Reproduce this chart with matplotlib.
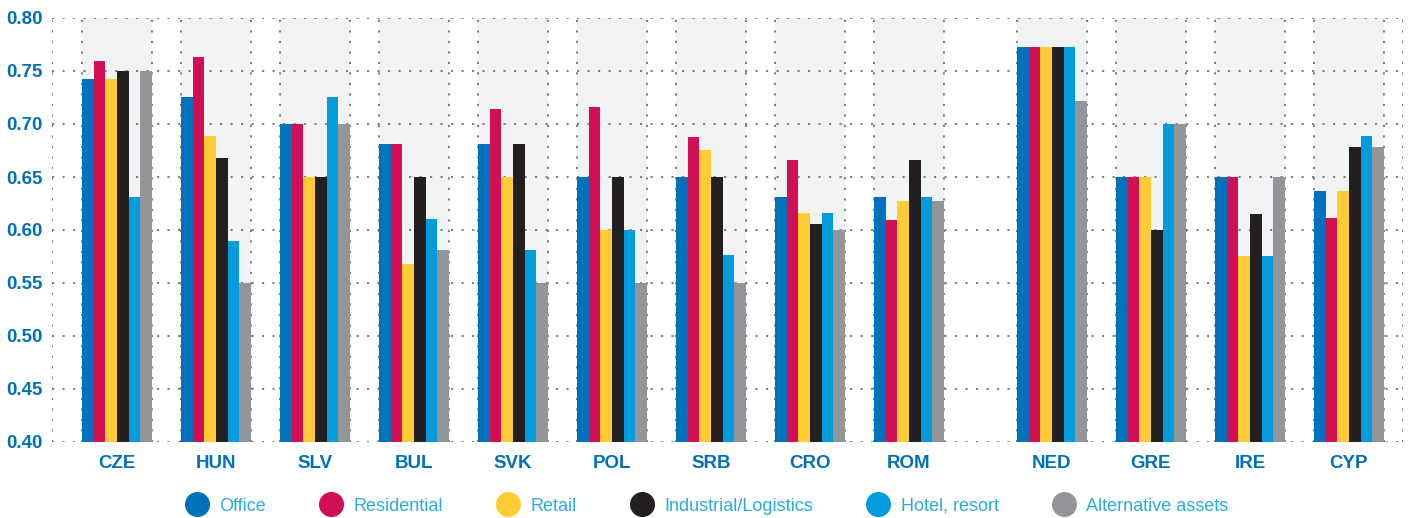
import matplotlib.pyplot as plt
from matplotlib.lines import Line2D
import numpy as np

countries = ["CZE", "HUN", "SLV", "BUL", "SVK", "POL", "SRB", "CRO", "ROM",
             "NED", "GRE", "IRE", "CYP"]
series = ["Office", "Residential", "Retail", "Industrial/Logistics",
          "Hotel, resort", "Alternative assets"]

office = [0.742, 0.725, 0.700, 0.681, 0.681, 0.650, 0.650, 0.631, 0.631,
          0.773, 0.650, 0.650, 0.637]
residential = [0.759, 0.763, 0.700, 0.681, 0.714, 0.716, 0.688, 0.666, 0.609,
               0.773, 0.650, 0.650, 0.611]
retail = [0.742, 0.689, 0.650, 0.568, 0.650, 0.600, 0.675, 0.616, 0.627,
          0.773, 0.650, 0.575, 0.637]
industrial = [0.750, 0.668, 0.650, 0.650, 0.681, 0.650, 0.650, 0.606, 0.666,
              0.773, 0.600, 0.615, 0.678]
hotel = [0.631, 0.590, 0.725, 0.610, 0.581, 0.600, 0.576, 0.616, 0.631,
         0.773, 0.700, 0.575, 0.689]
alternative = [0.750, 0.550, 0.700, 0.581, 0.550, 0.550, 0.550, 0.600, 0.627,
               0.722, 0.700, 0.650, 0.678]

values = [office, residential, retail, industrial, hotel, alternative]
colors = ["#0071BB", "#D20E55", "#FFCC33", "#231F20", "#009CDE", "#939598"]

# two blocks of countries with a wider gap between ROM and NED
x = np.array(list(range(9)) + [9.444 + i for i in range(4)])
group_w = 0.707
bar_w = group_w / 6

fig = plt.figure(figsize=(14.13, 5.18), dpi=100)
ax = fig.add_axes([52 / 1413, 76 / 518, 1351 / 1413, 424 / 518])

dot = (0, (1.3, 5))
grid_c = "#6a6a6a"

for xc in x:
    ax.axvspan(xc - group_w / 2, xc + group_w / 2, color="#F1F2F4", zorder=0, lw=0)
    for edge in (xc - group_w / 2, xc + group_w / 2):
        ax.axvline(edge, color=grid_c, ls=dot, lw=1.2, zorder=1)

xmin, xmax = -0.657, 12.99
for edge in (xmin, xmax):
    ax.axvline(edge, color=grid_c, ls=dot, lw=1.2, zorder=1)

for yv in np.arange(0.40, 0.801, 0.05):
    ax.axhline(yv, color=grid_c, ls=dot, lw=1.2, zorder=1)

for i, (vals, col) in enumerate(zip(values, colors)):
    ax.bar(x + (i - 2.5) * bar_w, vals, width=bar_w, color=col, zorder=2, lw=0)

ax.set_xlim(xmin, xmax)
ax.set_ylim(0.40, 0.80)
ax.set_yticks(np.arange(0.40, 0.801, 0.05))
ax.set_yticklabels([f"{v:.2f}" for v in np.arange(0.40, 0.801, 0.05)])
ax.set_xticks(x)
ax.set_xticklabels(countries)
for spine in ax.spines.values():
    spine.set_visible(False)
ax.tick_params(axis="both", length=0, labelcolor="#0070B8", labelsize=13.5)
ax.tick_params(axis="y", pad=7)
ax.tick_params(axis="x", pad=9)
for lab in ax.get_xticklabels() + ax.get_yticklabels():
    lab.set_fontweight("bold")
    lab.set_family("Liberation Sans")

handles = [Line2D([], [], marker="o", ls="", markersize=17, color=c) for c in colors]
leg = fig.legend(handles, series, loc="center", bbox_to_anchor=(0.498, 0.023),
                 ncol=6, frameon=False, handletextpad=0.25, columnspacing=2.6,
                 prop={"family": "Liberation Sans", "size": 13})
for t in leg.get_texts():
    t.set_color("#29ABE2")

fig.savefig("out.png", dpi=100)
